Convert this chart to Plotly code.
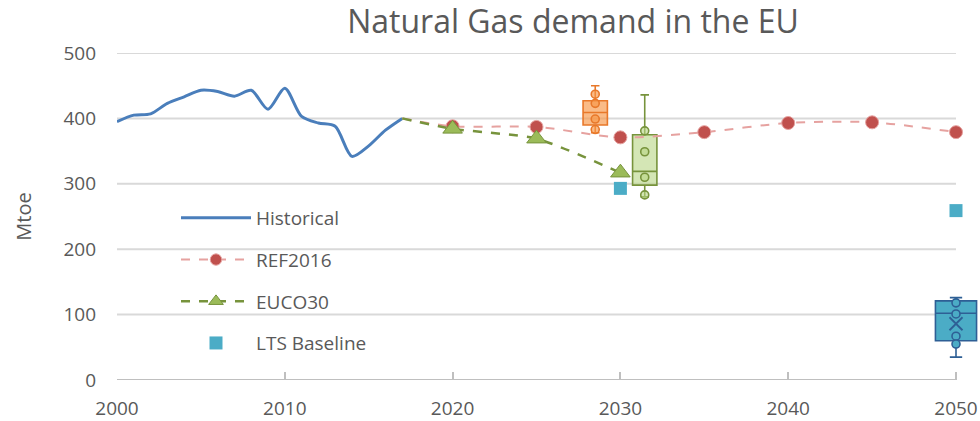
import numpy as np
import plotly.graph_objects as go

# ---------------- data ----------------
hist_years = list(range(2000, 2018))
hist_values = [395, 405, 407, 423, 433, 443, 441, 434, 443, 414, 446, 403, 393, 388, 342, 358, 382, 400]

ref_years = [2017, 2020, 2025, 2030, 2035, 2040, 2045, 2050]
ref_values = [400, 388, 387, 371, 379, 393, 394, 379]

euco_years = [2017, 2020, 2025, 2030]
euco_values = [400, 384, 369, 317]

lts_years = [2030, 2050]
lts_values = [293, 259]

# box summaries
box_names = ["orange", "green", "blue"]
box_x = [2028.5, 2031.45, 2050]
box_lower = [378, 280, 35]
box_q1 = [390, 298, 60]
box_median = [409, 319, 102]
box_q3 = [427, 375, 121]
box_upper = [450, 436, 126]
box_points = [[437, 423, 399, 383], [381, 349, 310, 283], [118, 101, 67, 55]]
blue_mean = 86

y_ticks = [0, 100, 200, 300, 400, 500]
x_ticks = [2000, 2010, 2020, 2030, 2040, 2050]

# ---------------- styles ----------------
FONT = "'Open Sans', sans-serif"
TXT = "#595959"
box_fill = ["rgba(247,150,70,0.65)", "rgba(184,214,131,0.6)", "#4BACC6"]
box_line = ["#E8782A", "#77933C", "#2E5F95"]
box_width = [1.45, 1.45, 2.45]
box_whisk = [0.35, 0.35, 0.3]

W, H = 980, 421
L, R, T, B = 117, 2, 53, 41
PW = W - L - R

fig = go.Figure()

# gridlines and axis line as shapes limited to 2000..2050
for yv in y_ticks[1:]:
    fig.add_shape(type="line", xref="x", yref="y", x0=x_ticks[0], x1=x_ticks[-1], y0=yv, y1=yv,
                  line=dict(color="#D9D9D9", width=2), layer="below")
fig.add_shape(type="line", xref="x", yref="y", x0=x_ticks[0], x1=x_ticks[-1], y0=0, y1=0,
              line=dict(color="#BFBFBF", width=2), layer="below")

# boxes
for i in range(len(box_names)):
    fig.add_trace(go.Box(
        x=[box_x[i]], q1=[box_q1[i]], median=[box_median[i]], q3=[box_q3[i]],
        lowerfence=[box_lower[i]], upperfence=[box_upper[i]],
        width=box_width[i], whiskerwidth=box_whisk[i],
        fillcolor=box_fill[i], line=dict(color=box_line[i], width=1.6),
        boxpoints=False, showlegend=False, hoverinfo="skip"))
    fig.add_trace(go.Scatter(
        x=[box_x[i]] * len(box_points[i]), y=box_points[i], mode="markers",
        marker=dict(symbol="circle", size=8, color=box_fill[i], opacity=1,
                    line=dict(color=box_line[i], width=1.6)),
        showlegend=False, hoverinfo="skip"))
fig.add_trace(go.Scatter(
    x=[box_x[2]], y=[blue_mean], mode="markers",
    marker=dict(symbol="x-thin", size=13, line=dict(color=box_line[2], width=1.8)),
    showlegend=False, hoverinfo="skip"))

# series
fig.add_trace(go.Scatter(
    x=hist_years, y=hist_values, mode="lines", name="Historical",
    line=dict(color="#4A7EBB", width=3, shape="spline", smoothing=0.8),
    legendgroup="a"))
fig.add_trace(go.Scatter(
    x=ref_years, y=ref_values, mode="lines+markers", name="REF2016",
    line=dict(color="#E6A2A0", width=2, dash="dash", shape="spline", smoothing=0.8),
    marker=dict(symbol="circle", size=[0] + [13] * (len(ref_years) - 1), color="#C0504D", opacity=1),
    legendgroup="b"))
fig.add_trace(go.Scatter(
    x=euco_years, y=euco_values, mode="lines+markers", name="EUCO30",
    line=dict(color="#77933C", width=2.5, dash="dash", shape="spline", smoothing=0.6),
    marker=dict(symbol="triangle-up", size=[0] + [17] * (len(euco_years) - 1), color="#9BBB59", opacity=1),
    legendgroup="c"))
fig.add_trace(go.Scatter(
    x=lts_years, y=lts_values, mode="markers", name="LTS Baseline",
    marker=dict(symbol="square", size=13, color="#4BACC6"),
    legendgroup="d"))

fig.update_layout(
    width=W, height=H,
    margin=dict(l=L, r=R, t=T, b=B, autoexpand=False),
    paper_bgcolor="white", plot_bgcolor="white",
    font=dict(family=FONT, color=TXT, size=19),
    title=dict(text="Natural Gas demand in the EU", x=573 / W, xref="container", xanchor="center",
               y=1 - 22 / H, yref="container", yanchor="middle",
               font=dict(size=32, color=TXT, family=FONT)),
    boxmode="overlay",
    showlegend=True,
    legend=dict(x=(176 - L) / PW, y=0.5535, xanchor="left", yanchor="top", bgcolor="rgba(0,0,0,0)",
                font=dict(size=19, color=TXT, family=FONT), tracegroupgap=14,
                traceorder="grouped", itemwidth=70),
    xaxis=dict(range=[2000, 2000 + PW / 16.78], tickvals=x_ticks,
               ticktext=[str(v) for v in x_ticks], automargin=False,
               showgrid=False, zeroline=False, showline=False,
               ticks="inside", ticklen=8, tickcolor="#BFBFBF", tickwidth=1.5,
               tickfont=dict(size=19, color=TXT), ticklabelstandoff=15),
    yaxis=dict(range=[0, 500], tickvals=y_ticks, showgrid=False, zeroline=False,
               showline=False, ticks="", tickfont=dict(size=19, color=TXT),
               ticklabelstandoff=20, automargin=False,
               title=dict(text="Mtoe", font=dict(size=20, color=TXT), standoff=26)),
)

# remove the browser's default 8px body margin so the figure fills the window exactly
fig.write_html("out.html", config={"displayModeBar": False},
               post_script="document.body.style.margin='0';")
